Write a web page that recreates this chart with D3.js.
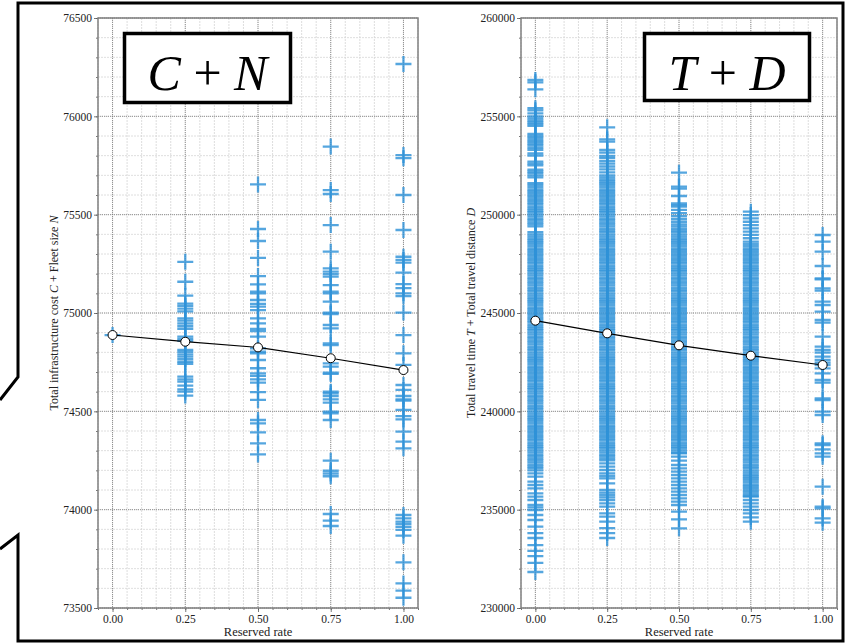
<!DOCTYPE html>
<html>
<head>
<meta charset="utf-8">
<script src="https://cdn.jsdelivr.net/npm/d3@7"></script>
<style>
  body { margin: 0; background: #fff; }
  svg text { font-family: "Liberation Serif", "Times New Roman", serif; }
</style>
</head>
<body>
<svg id="chart" width="846" height="644"></svg>
<script>
// Reserved-rate levels on the x axis
const reservedRates = [0, 0.25, 0.5, 0.75, 1.0];
const xTickLabels = ["0.00", "0.25", "0.50", "0.75", "1.00"];

// Left panel: C + N samples per reserved rate
const cnRate000 = [74888];
const cnRate025 = [75260, 75159, 75088, 75048, 75036, 75022, 75008, 74973, 74961, 74947, 74934, 74920,
  74880, 74868, 74858, 74812, 74802, 74790, 74778, 74765, 74752, 74742,
  74676, 74663, 74651, 74631, 74612, 74600, 74580];
const cnRate050 = [75654, 75427, 75366, 75280, 75188, 75146, 75109, 75100, 75066, 75046, 75032, 75015,
  74973, 74947, 74919, 74908, 74880, 74820, 74803, 74795, 74761, 74719,
  74693, 74680, 74663, 74646, 74598, 74558, 74456, 74439, 74393, 74337, 74281];
const cnRate075 = [75846, 75625, 75605, 75447, 75312, 75227, 75210, 75198, 75185, 75142, 75109, 75100,
  75058, 75002, 74995, 74939, 74922, 74846, 74837, 74744, 74727, 74697, 74690,
  74600, 74592, 74578, 74561, 74544, 74498, 74490, 74456, 74249, 74198, 74184, 74170,
  73978, 73944, 73917];
const cnRate100 = [76266, 75803, 75787, 75600, 75422, 75286, 75270, 75256, 75205, 75147, 75126, 75100,
  75086, 75002, 74888, 74795, 74736, 74634, 74609, 74578, 74561, 74554, 74507, 74476, 74459,
  74397, 74346, 74312, 73973, 73956, 73939, 73927, 73913, 73897, 73868, 73732, 73625,
  73588, 73552];
const cnMeans = [74888, 74854, 74825, 74770, 74710];

// Right panel: T + D samples per reserved rate
const tdRate000 = [231830, 232290, 232640, 232900, 233200, 233560, 233810, 234136, 234475, 234729,
  234983, 235119, 235237, 235492, 235661, 235830, 236085, 236254, 236424, 236678, 236848,
  237000, 237110, 237200, 237290, 237400, 237510, 237600, 237700, 237790, 237900,
  238000, 238110, 238200, 238290, 238400, 238510, 238600, 238700, 238790, 238900,
  239000, 239110, 239200, 239290, 239400, 239510, 239600, 239700, 239790, 239900,
  240000, 240110, 240200, 240290, 240400, 240510, 240600, 240700, 240790, 240900,
  241000, 241110, 241200, 241290, 241400, 241510, 241600, 241700, 241790, 241900,
  242000, 242110, 242200, 242290, 242400, 242510, 242600, 242700, 242790, 242900,
  243000, 243110, 243200, 243290, 243400, 243510, 243600, 243700, 243790, 243900,
  244000, 244110, 244200, 244290, 244400, 244510, 244600, 244700, 244790, 244900,
  245000, 245110, 245200, 245290, 245400, 245510, 245600, 245700, 245790, 245900,
  246000, 246110, 246200, 246290, 246400, 246510, 246600, 246700, 246790, 246900,
  247000, 247110, 247200, 247290, 247400, 247510, 247600, 247700, 247790, 247900,
  248000, 248110, 248200, 248290, 248400, 248510, 248600, 248700, 248790, 248900,
  249000, 249110, 249400, 249510, 249600, 249700, 249790, 249900,
  250000, 250110, 250200, 250290, 250400, 250510, 250600, 250700, 250790, 250900,
  251000, 251110, 251200, 251290, 251400, 251510, 251600, 251900,
  252000, 252110, 252200, 252290, 252510, 252600, 252700,
  253000, 253110, 253290, 253400, 253510, 253600, 253700, 253790, 253900,
  254000, 254110, 254510, 254600, 254700, 254790, 254900,
  255000, 255150, 255300, 255410,
  256374, 256730, 256847];
const tdRate025 = [233560, 233810, 234060, 234390, 234644, 234814, 235153, 235322, 235492, 235627,
  235746, 235864, 236000, 236339, 236593, 236712, 236848, 237017, 237186, 237356,
  237510, 237600, 237700, 237790, 237900,
  238000, 238110, 238200, 238290, 238400, 238510, 238600, 238700, 238790, 238900,
  239000, 239110, 239200, 239290, 239400, 239510, 239600, 239700, 239790, 239900,
  240000, 240110, 240200, 240290, 240400, 240510, 240600, 240700, 240790, 240900,
  241000, 241110, 241200, 241290, 241400, 241510, 241600, 241700, 241790, 241900,
  242000, 242110, 242200, 242290, 242400, 242510, 242600, 242700, 242790, 242900,
  243000, 243110, 243200, 243290, 243400, 243510, 243600, 243700, 243790, 243900,
  244000, 244110, 244200, 244290, 244400, 244510, 244600, 244700, 244790, 244900,
  245000, 245110, 245200, 245290, 245400, 245510, 245600, 245700, 245790, 245900,
  246000, 246110, 246200, 246290, 246400, 246510, 246600, 246700, 246790, 246900,
  247000, 247110, 247200, 247290, 247400, 247510, 247600, 247700, 247790, 247900,
  248000, 248110, 248200, 248290, 248400, 248510, 248600, 248700, 248790, 248900,
  249000, 249110, 249200, 249290, 249400, 249510, 249600, 249700, 249790, 249900,
  250000, 250110, 250200, 250290, 250400, 250510, 250600, 250700, 250790, 250900,
  251000, 251110, 251200, 251290, 251400, 251510, 251600, 251700, 251790, 251900,
  252000, 252150, 252300, 252450, 252600, 252720, 252870, 252983, 253150, 253288, 253713,
  253832, 254442];
const tdRate050 = [234051, 234509, 234900, 235237, 235407, 235576, 235746, 235915, 236085, 236254,
  236424, 236593, 236763, 236932, 237102, 237271, 237492, 237695, 237864, 237900,
  238000, 238110, 238200, 238290, 238400, 238510, 238600, 238700, 238790, 238900,
  239000, 239110, 239200, 239290, 239400, 239510, 239600, 239700, 239790, 239900,
  240000, 240110, 240200, 240290, 240400, 240510, 240600, 240700, 240790, 240900,
  241000, 241110, 241200, 241290, 241400, 241510, 241600, 241700, 241790, 241900,
  242000, 242110, 242200, 242290, 242400, 242510, 242600, 242700, 242790, 242900,
  243000, 243110, 243200, 243290, 243400, 243510, 243600, 243700, 243790, 243900,
  244000, 244110, 244200, 244290, 244400, 244510, 244600, 244700, 244790, 244900,
  245000, 245110, 245200, 245290, 245400, 245510, 245600, 245700, 245790, 245900,
  246000, 246110, 246200, 246290, 246400, 246510, 246600, 246700, 246790, 246900,
  247000, 247110, 247200, 247290, 247400, 247510, 247600, 247700, 247790, 247900,
  248000, 248110, 248200, 248290, 248400, 248510, 248600, 248700, 248790, 248900,
  249000, 249110, 249200, 249290, 249400, 249510,
  249640, 249780, 249930, 250080, 250240, 250406, 250490, 250576, 250949,
  251322, 251424, 252136];
const tdRate075 = [234390, 234610, 234814, 234983, 235153, 235322, 235492, 235661,
  235700, 235790, 235900,
  236000, 236110, 236200, 236290, 236400, 236510, 236600, 236700, 236790, 236900,
  237000, 237110, 237200, 237290, 237400, 237510, 237600, 237700, 237790, 237900,
  238000, 238110, 238200, 238290, 238400, 238510, 238600, 238700, 238790, 238900,
  239000, 239110, 239200, 239290, 239400, 239510, 239600, 239700, 239790, 239900,
  240000, 240110, 240200, 240290, 240400, 240510, 240600, 240700, 240790, 240900,
  241000, 241110, 241200, 241290, 241400, 241510, 241600, 241700, 241790, 241900,
  242000, 242110, 242200, 242290, 242400, 242510, 242600, 242700, 242790, 242900,
  243000, 243110, 243200, 243290, 243400, 243510, 243600, 243700, 243790, 243900,
  244000, 244110, 244200, 244290, 244400, 244510, 244600, 244700, 244790, 244900,
  245000, 245110, 245200, 245290, 245400, 245510, 245600, 245700, 245790, 245900,
  246000, 246110, 246200, 246290, 246400, 246510, 246600, 246700, 246790, 246900,
  247000, 247110, 247200, 247290, 247400, 247510, 247600, 247700, 247790, 247900,
  248000, 248110, 248200, 248290, 248400, 248510, 248626,
  248800, 248970, 249140, 249306, 249470, 249640, 249810, 249980, 250152];
const tdRate100 = [234339, 234560, 235068, 235153, 236169, 237695, 237865, 238068, 238288, 238373,
  239814, 239983, 240576, 240661, 241458, 241593, 241932, 242187, 242356, 242475, 242610, 242780,
  242983, 243119, 243287, 243795, 244508, 244644, 245067, 245406, 245575, 246137, 246256, 246713,
  246764, 247390, 248119, 248627, 248966];
const tdMeans = [244610, 243966, 243356, 242830, 242356];

const svg = d3.select("#chart");

// Outer callout frame
svg.append("path")
  .attr("d", "M0,400 L18,377 V3 H843 V641 H18 V535 L0,549")
  .attr("fill", "none").attr("stroke", "#000").attr("stroke-width", 3)
  .attr("stroke-linejoin", "miter");

const fmtX = (d) => xTickLabels[reservedRates.indexOf(d)];

function panel(opts) {
  const { x0, x1, y0, y1, yDomain, yMajor, yMinor, columns, means, yLabel, title, titleBox } = opts;
  const g = svg.append("g");
  const x = d3.scaleLinear().domain([-0.05, 1.05]).range([x0, x1]);
  const y = d3.scaleLinear().domain(yDomain).range([y1, y0]);

  const xMinorTicks = d3.range(-1, 22).map(i => +(i * 0.05).toFixed(2)).filter(v => v >= -0.05 && v <= 1.05);
  const yMinorTicks = d3.range(yDomain[0], yDomain[1] + 1, yMinor);
  const yMajorTicks = d3.range(yDomain[0], yDomain[1] + 1, yMajor);

  // minor grid
  const grid = g.append("g");
  grid.selectAll(".vmin").data(xMinorTicks).join("line")
    .attr("x1", d => x(d)).attr("x2", d => x(d)).attr("y1", y0).attr("y2", y1)
    .attr("stroke", "#d6d6d6").attr("stroke-width", 0.8).attr("stroke-dasharray", "2,1");
  grid.selectAll(".hmin").data(yMinorTicks).join("line")
    .attr("x1", x0).attr("x2", x1).attr("y1", d => y(d)).attr("y2", d => y(d))
    .attr("stroke", "#d6d6d6").attr("stroke-width", 0.8).attr("stroke-dasharray", "2,1");
  // major grid
  grid.selectAll(".vmaj").data(reservedRates).join("line")
    .attr("x1", d => x(d)).attr("x2", d => x(d)).attr("y1", y0).attr("y2", y1)
    .attr("stroke", "#7a7a7a").attr("stroke-width", 0.8).attr("stroke-dasharray", "1,1");
  grid.selectAll(".hmaj").data(yMajorTicks).join("line")
    .attr("x1", x0).attr("x2", x1).attr("y1", d => y(d)).attr("y2", d => y(d))
    .attr("stroke", "#7a7a7a").attr("stroke-width", 0.8).attr("stroke-dasharray", "1,1");

  // '+' markers for every sample
  const pts = [];
  columns.forEach((vals, i) => vals.forEach(v => pts.push({ r: reservedRates[i], v })));
  g.append("g").selectAll("path").data(pts).join("path")
    .attr("transform", d => `translate(${x(d.r)},${y(d.v)})`)
    .attr("d", "M-8,0H8M0,-8V8")
    .attr("fill", "none")
    .attr("stroke", "#2f92d8").attr("stroke-opacity", 0.82).attr("stroke-width", 2.3);

  // mean line
  const meanPts = means.map((v, i) => ({ r: reservedRates[i], v }));
  g.append("path").datum(meanPts)
    .attr("d", d3.line().x(d => x(d.r)).y(d => y(d.v)))
    .attr("fill", "none").attr("stroke", "#000").attr("stroke-width", 1.2);
  g.append("g").selectAll("circle").data(meanPts).join("circle")
    .attr("cx", d => x(d.r)).attr("cy", d => y(d.v)).attr("r", 4.5)
    .attr("fill", "#fff").attr("stroke", "#000").attr("stroke-width", 1);

  // axes
  const axX = g.append("g").attr("transform", `translate(0,${y1})`)
    .call(d3.axisBottom(x).tickValues(reservedRates).tickFormat(fmtX).tickSize(4).tickPadding(3));
  const axXm = g.append("g").attr("transform", `translate(0,${y1})`)
    .call(d3.axisBottom(x).tickValues(xMinorTicks).tickFormat("").tickSize(2));
  const axY = g.append("g").attr("transform", `translate(${x0},0)`)
    .call(d3.axisLeft(y).tickValues(yMajorTicks).tickFormat(d3.format("d")).tickSize(4).tickPadding(2));
  const axYm = g.append("g").attr("transform", `translate(${x0},0)`)
    .call(d3.axisLeft(y).tickValues(yMinorTicks).tickFormat("").tickSize(2));
  [axX, axXm, axY, axYm].forEach(a => {
    a.select(".domain").remove();
    a.selectAll("line").attr("stroke", "#555").attr("stroke-width", 0.8);
    a.selectAll("text").attr("font-family", "Liberation Serif").attr("font-size", 11.5).attr("fill", "#222");
  });

  // spines
  g.append("rect").attr("x", x0).attr("y", y0).attr("width", x1 - x0).attr("height", y1 - y0)
    .attr("fill", "none").attr("stroke", "#808080").attr("stroke-width", 1.5);

  // axis titles
  g.append("text").attr("x", (x0 + x1) / 2).attr("y", 636).attr("text-anchor", "middle")
    .attr("font-size", 12.5).attr("fill", "#222").text("Reserved rate");
  const yl = g.append("text").attr("transform", `translate(${opts.yLabelX},${(y0 + y1) / 2}) rotate(-90)`)
    .attr("text-anchor", "middle").attr("font-size", 12).attr("fill", "#222");
  yLabel.forEach(part => yl.append("tspan").attr("font-style", part.it ? "italic" : "normal").text(part.t));

  // boxed title
  const b = titleBox;
  g.append("rect").attr("x", b.x).attr("y", b.y).attr("width", b.w).attr("height", b.h)
    .attr("fill", "#fff").attr("stroke", "#000").attr("stroke-width", 3.5);
  const t = g.append("text").attr("x", b.x + b.w / 2).attr("y", b.y + 56).attr("text-anchor", "middle")
    .attr("font-size", 50).attr("fill", "#000");
  title.forEach(part => t.append("tspan").attr("font-style", part.it ? "italic" : "normal").text(part.t));
}

panel({
  x0: 98, x1: 418, y0: 18, y1: 608,
  yDomain: [73500, 76500], yMajor: 500, yMinor: 100,
  columns: [cnRate000, cnRate025, cnRate050, cnRate075, cnRate100],
  means: cnMeans,
  yLabelX: 58,
  yLabel: [{ t: "Total infrastructure cost " }, { t: "C", it: true }, { t: " + Fleet size " }, { t: "N", it: true }],
  title: [{ t: "C", it: true }, { t: " + " }, { t: "N", it: true }],
  titleBox: { x: 124.5, y: 33.5, w: 166, h: 69 }
});

panel({
  x0: 521, x1: 837, y0: 18, y1: 608,
  yDomain: [230000, 260000], yMajor: 5000, yMinor: 1000,
  columns: [tdRate000, tdRate025, tdRate050, tdRate075, tdRate100],
  means: tdMeans,
  yLabelX: 475,
  yLabel: [{ t: "Total travel time " }, { t: "T", it: true }, { t: " + Total travel distance " }, { t: "D", it: true }],
  title: [{ t: "T", it: true }, { t: " + " }, { t: "D", it: true }],
  titleBox: { x: 644.5, y: 33.5, w: 165, h: 67 }
});
</script>
</body>
</html>
